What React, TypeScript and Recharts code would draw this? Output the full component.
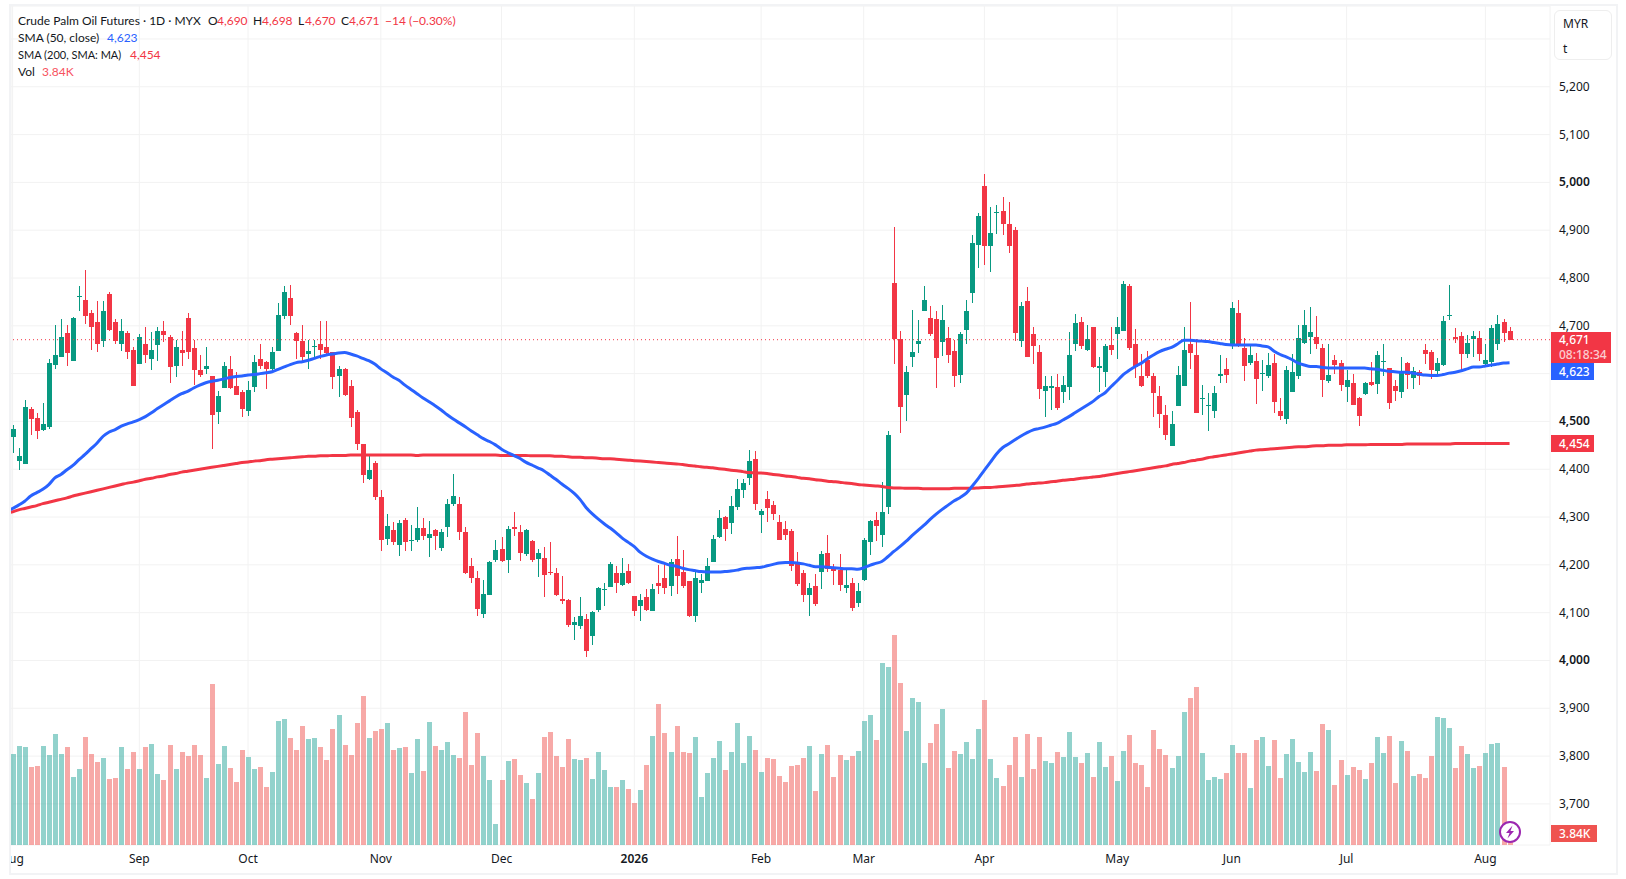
import React from 'react';
import { ComposedChart, Bar, Line, XAxis, YAxis, CartesianGrid, ReferenceLine } from 'recharts';

const open = [
  4468,4418,4412,4525,4508,4483,4489,4619,4634,4686,
  4627,4760,4755,4726,4709,4669,4766,4709,4661,4686,
  4650,4621,4663,4630,4659,4690,4676,4615,4650,4717,
  4653,4607,4609,4596,4519,4569,4609,4575,4561,4521,
  4571,4630,4625,4609,4648,4720,4759,4686,4669,4642,
  4655,4661,4655,4646,4596,4609,4575,4519,4452,4379,
  4413,4342,4255,4272,4242,4294,4249,4253,4278,4257,
  4272,4236,4280,4328,4328,4269,4197,4172,4097,4136,
  4211,4234,4211,4280,4269,4222,4249,4213,4215,4186,
  4184,4128,4126,4074,4072,4086,4051,4105,4147,4153,
  4184,4157,4188,4134,4113,4132,4103,4163,4172,4155,
  4213,4186,4167,4092,4163,4167,4205,4259,4301,4288,
  4322,4357,4382,4422,4305,4338,4326,4290,4276,4270,
  4205,4182,4136,4155,4185,4224,4194,4189,4151,4162,
  4120,4168,4247,4293,4262,4322,4790,4673,4556,4634,
  4661,4732,4717,4715,4667,4675,4648,4598,4692,4769,
  4870,4993,4866,4937,4941,4912,4901,4669,4751,4682,
  4646,4563,4569,4571,4561,4573,4663,4709,4650,4698,
  4611,4604,4659,4682,4690,4784,4661,4594,4629,4594,
  4554,4514,4449,4533,4575,4661,4640,4548,4533,4522,
  4594,4610,4661,4727,4654,4623,4627,4600,4596,4623,
  4522,4506,4562,4596,4665,4677,4677,4654,4585,4629,
  4623,4571,4581,4548,4558,4583,4579,4624,4612,4575,
  4562,4623,4591,4604,4650,4646,4606,4619,4721,4676,
  4679,4642,4673,4675,4621,4625,4663,4707,4690,
];
const high = [
  4492,4445,4544,4531,4517,4538,4630,4701,4715,4701,
  4719,4784,4816,4734,4751,4751,4770,4715,4715,4690,
  4655,4682,4697,4688,4697,4711,4680,4671,4690,4726,
  4671,4638,4655,4596,4563,4625,4636,4604,4565,4584,
  4640,4663,4627,4655,4747,4784,4786,4688,4701,4671,
  4671,4711,4711,4646,4615,4611,4586,4523,4452,4430,
  4417,4357,4307,4290,4294,4299,4284,4322,4297,4292,
  4276,4274,4338,4390,4342,4280,4215,4188,4169,4209,
  4251,4259,4282,4311,4284,4276,4253,4234,4238,4247,
  4194,4176,4128,4090,4132,4097,4103,4153,4163,4207,
  4197,4215,4201,4134,4138,4149,4159,4199,4207,4213,
  4261,4232,4167,4186,4180,4215,4263,4315,4303,4344,
  4380,4380,4440,4438,4317,4355,4334,4305,4291,4276,
  4226,4189,4162,4180,4230,4262,4201,4222,4191,4172,
  4162,4256,4293,4310,4373,4479,4907,4690,4615,4734,
  4713,4784,4742,4730,4744,4698,4671,4688,4753,4891,
  4935,5018,4949,4953,4970,4960,4907,4749,4782,4698,
  4659,4596,4596,4600,4594,4688,4724,4719,4701,4698,
  4634,4663,4698,4719,4794,4788,4694,4642,4648,4602,
  4575,4535,4522,4617,4698,4750,4673,4577,4560,4575,
  4640,4633,4750,4755,4675,4663,4644,4629,4644,4642,
  4548,4617,4642,4702,4734,4740,4721,4661,4663,4640,
  4629,4608,4600,4552,4583,4625,4648,4661,4612,4587,
  4635,4625,4614,4608,4663,4650,4633,4721,4786,4696,
  4688,4681,4690,4690,4663,4702,4723,4715,4698,
];
const low = [
  4433,4399,4412,4471,4464,4479,4485,4609,4634,4617,
  4626,4730,4703,4650,4646,4655,4689,4661,4648,4630,
  4575,4621,4623,4607,4627,4667,4581,4592,4615,4630,
  4577,4592,4600,4443,4494,4569,4567,4556,4510,4512,
  4561,4609,4567,4604,4648,4715,4701,4630,4627,4609,
  4632,4630,4640,4567,4552,4554,4489,4441,4372,4378,
  4336,4228,4242,4242,4219,4230,4228,4247,4251,4217,
  4232,4228,4259,4324,4253,4180,4163,4094,4088,4136,
  4207,4207,4182,4261,4209,4219,4205,4174,4132,4178,
  4134,4119,4069,4042,4065,4007,4032,4101,4113,4153,
  4142,4155,4159,4092,4082,4103,4103,4140,4140,4134,
  4140,4151,4090,4080,4142,4167,4205,4257,4249,4265,
  4315,4340,4367,4315,4267,4290,4294,4251,4251,4187,
  4155,4122,4093,4113,4149,4185,4157,4145,4141,4103,
  4111,4166,4220,4249,4237,4306,4621,4475,4500,4613,
  4644,4730,4678,4569,4636,4623,4571,4581,4661,4747,
  4820,4828,4813,4893,4891,4853,4669,4655,4634,4621,
  4546,4510,4523,4523,4538,4544,4648,4652,4648,4611,
  4561,4571,4638,4630,4690,4650,4591,4571,4591,4510,
  4487,4462,4449,4533,4575,4610,4518,4514,4481,4508,
  4581,4581,4652,4656,4585,4619,4537,4564,4591,4518,
  4502,4495,4562,4589,4663,4642,4652,4552,4581,4600,
  4564,4541,4535,4491,4556,4575,4558,4594,4527,4543,
  4550,4568,4568,4577,4621,4589,4594,4617,4713,4665,
  4604,4633,4635,4627,4619,4614,4650,4667,4670,
];
const close = [
  4485,4427,4531,4506,4479,4494,4623,4640,4676,4644,
  4717,4762,4720,4697,4661,4732,4692,4669,4690,4646,
  4575,4676,4640,4650,4690,4680,4613,4655,4644,4646,
  4607,4598,4617,4514,4554,4615,4569,4556,4525,4565,
  4625,4615,4609,4646,4722,4770,4720,4669,4634,4648,
  4657,4650,4644,4592,4609,4556,4508,4452,4389,4399,
  4342,4251,4282,4247,4288,4247,4251,4278,4261,4265,
  4261,4269,4328,4344,4269,4184,4172,4107,4140,4207,
  4232,4209,4276,4274,4224,4272,4211,4224,4178,4182,
  4136,4124,4074,4080,4092,4019,4101,4151,4149,4201,
  4161,4184,4161,4103,4126,4105,4149,4155,4151,4205,
  4176,4155,4092,4172,4169,4197,4255,4299,4274,4324,
  4359,4372,4417,4328,4313,4319,4307,4251,4262,4197,
  4159,4136,4151,4118,4222,4192,4187,4157,4157,4109,
  4145,4251,4291,4281,4310,4471,4673,4531,4604,4646,
  4669,4755,4682,4632,4713,4638,4596,4682,4732,4874,
  4930,4868,4895,4939,4912,4866,4686,4742,4634,4657,
  4567,4575,4575,4529,4577,4640,4705,4657,4673,4613,
  4617,4657,4650,4698,4788,4654,4614,4575,4594,4560,
  4516,4472,4495,4598,4650,4644,4518,4550,4535,4560,
  4600,4598,4738,4661,4617,4638,4589,4602,4619,4541,
  4512,4608,4604,4675,4702,4688,4661,4587,4598,4619,
  4577,4587,4535,4512,4581,4577,4640,4626,4539,4564,
  4604,4598,4606,4594,4642,4608,4623,4711,4723,4673,
  4642,4665,4679,4642,4629,4696,4704,4684,4671,
];
// volume in thousands
const volume = [
  29.1,31.7,31.4,25.0,25.3,31.7,28.8,35.5,29.1,31.4,
  21.8,24.3,34.6,29.1,26.6,27.8,21.1,21.4,31.4,24.3,
  29.8,24.3,31.4,32.3,22.7,20.8,32.0,24.3,29.8,28.5,
  32.0,28.8,21.4,51.5,25.9,31.7,24.6,20.2,30.4,28.2,
  24.3,25.0,18.6,23.4,39.7,40.3,34.2,30.4,38.1,33.9,
  34.2,31.4,27.2,37.1,41.6,32.0,28.8,39.0,47.7,34.2,
  36.5,37.1,39.0,30.4,31.0,31.4,23.0,33.9,23.7,39.4,
  31.7,30.4,33.0,28.8,27.8,42.6,25.6,35.8,28.5,20.8,
  6.7,20.8,26.9,27.5,22.4,19.8,14.7,23.0,34.6,36.2,
  28.5,25.0,33.9,27.5,27.2,27.8,21.1,29.8,24.0,18.6,
  18.6,20.8,17.9,13.4,17.6,25.6,34.9,45.1,35.8,29.8,
  38.1,29.8,29.4,34.6,15.4,23.0,27.8,33.3,24.0,29.8,
  39.0,26.2,34.9,30.4,23.4,27.8,27.5,22.1,20.2,25.3,
  25.6,27.8,31.7,17.3,29.1,32.0,21.8,28.8,27.2,28.5,
  30.1,39.7,41.6,33.6,58.2,57.0,67.2,51.8,36.5,47.0,
  45.8,26.2,32.6,38.7,43.5,24.6,30.1,29.1,33.0,27.5,
  37.1,46.4,27.5,21.4,18.9,25.6,34.6,21.8,35.5,24.3,
  34.6,26.9,26.2,29.8,28.2,36.2,28.2,26.2,29.4,21.8,
  33.0,25.0,28.5,20.5,30.1,35.2,26.2,25.6,18.6,36.8,
  30.7,28.8,24.6,28.5,42.6,47.0,50.6,29.4,20.8,21.8,
  21.1,23.0,32.0,29.4,29.4,18.2,33.6,34.6,25.3,33.6,
  21.4,29.1,33.9,26.6,23.4,29.8,23.7,38.7,36.8,19.2,
  27.2,22.4,25.0,24.0,21.1,26.2,34.6,29.4,34.9,19.8,
  33.3,30.1,22.1,22.7,21.4,28.5,41.0,40.6,37.4,24.6,
  31.7,29.1,24.6,25.3,29.4,32.3,32.6,25.0,3.84,
];
const sma50 = [
  4318,4325,4333,4344,4351,4358,4368,4382,4389,4399,
  4408,4420,4431,4443,4455,4469,4478,4483,4490,4495,
  4499,4504,4510,4518,4527,4535,4543,4551,4558,4563,
  4570,4576,4581,4584,4586,4589,4592,4594,4595,4597,
  4598,4600,4602,4604,4609,4614,4619,4623,4625,4628,
  4632,4636,4639,4641,4643,4644,4641,4637,4632,4627,
  4620,4610,4602,4593,4586,4576,4567,4558,4549,4541,
  4533,4524,4514,4505,4497,4489,4480,4472,4464,4458,
  4451,4442,4435,4429,4423,4415,4409,4403,4397,4388,
  4379,4369,4360,4350,4337,4320,4307,4296,4286,4277,
  4267,4256,4247,4238,4226,4218,4212,4207,4203,4199,
  4197,4193,4190,4188,4186,4185,4185,4185,4186,4187,
  4189,4192,4193,4194,4195,4198,4201,4204,4205,4205,
  4204,4202,4199,4196,4196,4195,4194,4193,4192,4192,
  4191,4194,4199,4203,4207,4217,4228,4238,4249,4261,
  4272,4283,4295,4306,4316,4325,4334,4341,4350,4365,
  4381,4398,4415,4432,4445,4453,4461,4469,4476,4482,
  4485,4488,4492,4496,4503,4510,4518,4526,4534,4542,
  4552,4560,4573,4585,4598,4607,4615,4622,4631,4639,
  4646,4651,4655,4662,4670,4670,4669,4668,4667,4665,
  4663,4661,4660,4660,4660,4660,4660,4658,4656,4647,
  4640,4635,4629,4622,4618,4615,4615,4613,4612,4612,
  4612,4612,4612,4612,4612,4610,4609,4607,4605,4604,
  4603,4603,4601,4599,4597,4596,4596,4598,4601,4603,
  4606,4610,4614,4614,4616,4618,4620,4622,4623,
];
const sma200 = [
  4311,4315,4318,4321,4324,4328,4331,4334,4337,4340,
  4344,4347,4350,4353,4356,4359,4362,4365,4368,4371,
  4373,4376,4379,4381,4384,4386,4389,4391,4394,4396,
  4398,4400,4402,4404,4406,4408,4410,4412,4414,4415,
  4417,4418,4420,4421,4422,4423,4424,4425,4426,4427,
  4427,4428,4428,4429,4429,4429,4430,4430,4430,4430,
  4430,4430,4430,4430,4430,4430,4430,4429,4430,4430,
  4430,4430,4430,4430,4430,4430,4430,4430,4430,4430,
  4430,4429,4429,4429,4429,4429,4428,4428,4428,4428,
  4427,4427,4426,4425,4425,4424,4424,4423,4422,4422,
  4421,4420,4419,4418,4417,4416,4415,4414,4413,4412,
  4411,4410,4408,4407,4405,4404,4403,4401,4400,4398,
  4397,4395,4393,4392,4392,4391,4389,4388,4386,4385,
  4383,4381,4380,4378,4377,4375,4374,4373,4371,4370,
  4368,4367,4366,4365,4364,4362,4361,4361,4360,4360,
  4360,4359,4359,4359,4359,4359,4360,4360,4360,4360,
  4361,4362,4362,4363,4364,4365,4366,4367,4369,4370,
  4371,4372,4374,4375,4377,4378,4379,4381,4382,4384,
  4385,4387,4389,4391,4393,4395,4397,4399,4401,4403,
  4405,4407,4410,4412,4414,4417,4419,4421,4424,4426,
  4428,4430,4432,4434,4436,4438,4440,4441,4442,4443,
  4444,4445,4446,4447,4447,4448,4449,4449,4450,4450,
  4450,4451,4451,4451,4451,4452,4452,4452,4452,4452,
  4452,4453,4453,4453,4453,4453,4453,4453,4453,4454,
  4454,4454,4454,4454,4454,4454,4454,4454,4454,
];
// averages one session before the first visible bar, so the lines reach the left edge
const sma50Before = 4311;
const sma200Before = 4307;
const monthTicks = [0, 21, 39, 61, 81, 103, 124, 141, 161, 183, 202, 221, 244];
const monthLabels = ['Aug', 'Sep', 'Oct', 'Nov', 'Dec', '2026', 'Feb', 'Mar', 'Apr', 'May', 'Jun', 'Jul', 'Aug'];
const priceTicks = [3700, 3800, 3900, 4000, 4100, 4200, 4300, 4400, 4500, 4600, 4700, 4800, 4900, 5000, 5100, 5200, 5300];
const lastClose = 4671;

const chartData: any[] = [
  { i: -1, sma50: sma50Before, sma200: sma200Before },
  ...open.map((o, i) => ({
    i,
    open: o,
    high: high[i],
    low: low[i],
    close: close[i],
    vol: volume[i],
    sma50: sma50[i],
    sma200: sma200[i],
  })),
];

const FONT = '"Noto Sans", sans-serif';
const LEGEND_FONT = 'Lato, sans-serif';
const UP = '#089981';
const DOWN = '#F23645';
const BLUE = '#2962FF';
const INK = '#131722';

const Candle = (props: any) => {
  const { x, y, width, height, payload } = props;
  if (payload.open == null) return null;
  const pxPerUnit = height / (payload.high - payload.low);
  const top = y + (payload.high - Math.max(payload.open, payload.close)) * pxPerUnit;
  const bodyH = Math.max(Math.abs(payload.open - payload.close) * pxPerUnit, 1);
  const color = payload.close >= payload.open ? UP : DOWN;
  const left = Math.round(x);
  return (
    <g shapeRendering="crispEdges">
      <rect x={left + 2} y={y} width={1} height={height} fill={color} />
      <rect x={left} y={top} width={width} height={bodyH} fill={color} />
    </g>
  );
};

const VolBar = (props: any) => {
  const { x, y, width, height, payload } = props;
  if (payload.open == null) return null;
  const color = payload.close >= payload.open ? '#26a69a' : '#ef5350';
  return <rect x={Math.round(x)} y={y} width={width} height={height} fill={color} fillOpacity={0.5} shapeRendering="crispEdges" />;
};

const PriceTick = (props: any) => {
  const { y, payload } = props;
  if (payload.value === 5300) return null;
  const strong = payload.value % 500 === 0;
  return (
    <text x={1559} y={y + 4} fontSize={12} fontFamily={FONT} fontWeight={strong ? 600 : 400} fill={INK}>
      {payload.value.toLocaleString('en-US')}
    </text>
  );
};

const DateTick = (props: any) => {
  const { x, y, payload } = props;
  const label = monthLabels[monthTicks.indexOf(payload.value)];
  return (
    <text x={x} y={y + 10} textAnchor="middle" fontSize={12} fontFamily={FONT} fontWeight={label === '2026' ? 600 : 400} fill={INK}>
      {label}
    </text>
  );
};

const Badge = ({ top, height, width, bg, children }: any) => (
  <div style={{ position: 'absolute', left: 1551, top, width, height, background: bg, color: '#fff', fontSize: 12, paddingLeft: 8, boxSizing: 'border-box', lineHeight: '17px', fontWeight: 500 }}>
    {children}
  </div>
);

const Row = ({ top, size = 12, children }: any) => (
  <div style={{ position: 'absolute', left: 18, top, height: 17, lineHeight: '17px', fontSize: size, fontFamily: LEGEND_FONT, color: INK, whiteSpace: 'nowrap' }}>{children}</div>
);

const Val = ({ x, color, children }: any) => (
  <span style={{ position: 'absolute', left: x, color, fontSize: 12 }}>{children}</span>
);

export default function App() {
  return (
    <div style={{ position: 'absolute', left: 0, top: 0, width: 1626, height: 879, background: '#fff', fontFamily: FONT, overflow: 'hidden' }}>
      <ComposedChart width={1626} height={879} data={chartData} margin={{ top: 6, right: 0, bottom: 0, left: 11 }}>
        <CartesianGrid stroke="#f2f2f2" xAxisId="price" yAxisId="price" />
        <XAxis
          xAxisId="price"
          type="number"
          dataKey="i"
          domain={[-0.265, 254.7]}
          allowDataOverflow
          ticks={monthTicks}
          interval={0}
          height={34}
          axisLine={false}
          tickLine={false}
          tick={<DateTick />}
        />
        <XAxis xAxisId="vol" type="number" dataKey="i" domain={[-0.265, 254.7]} allowDataOverflow hide />
        <YAxis
          yAxisId="price"
          orientation="right"
          width={76}
          domain={[3614, 5369]}
          allowDataOverflow
          ticks={priceTicks}
          interval={0}
          axisLine={false}
          tickLine={false}
          tick={<PriceTick />}
        />
        <YAxis yAxisId="vol" hide domain={[0, 268.5]} />
        <ReferenceLine xAxisId="price" yAxisId="price" y={lastClose} stroke={DOWN} strokeDasharray="1 3" />
        <Bar xAxisId="vol" yAxisId="vol" dataKey="vol" barSize={5} shape={<VolBar />} isAnimationActive={false} />
        <Bar xAxisId="price" yAxisId="price" dataKey={(d: any) => (d.open == null ? null : [d.low, d.high])} barSize={5} shape={<Candle />} isAnimationActive={false} />
        <Line xAxisId="price" yAxisId="price" dataKey="sma200" stroke={DOWN} strokeWidth={3} dot={false} activeDot={false} type="monotone" isAnimationActive={false} />
        <Line xAxisId="price" yAxisId="price" dataKey="sma50" stroke={BLUE} strokeWidth={3} dot={false} activeDot={false} type="monotone" isAnimationActive={false} />
      </ComposedChart>

      {/* frame */}
      <div style={{ position: 'absolute', left: 0, top: 0, width: 9, height: 879, background: '#fff' }} />
      <div style={{ position: 'absolute', left: 9, top: 4, width: 1609, height: 871, border: '2px solid #f2f3f5', boxSizing: 'border-box' }} />

      {/* legend */}
      <Row top={12}>
        Crude Palm Oil Futures · 1D · MYX
        <Val x={190}>O</Val><Val x={199} color={DOWN}>4,690</Val>
        <Val x={235}>H</Val><Val x={244} color={DOWN}>4,698</Val>
        <Val x={280}>L</Val><Val x={287} color={DOWN}>4,670</Val>
        <Val x={323}>C</Val><Val x={331} color={DOWN}>4,671</Val>
        <Val x={367} color={DOWN}>−14 (−0.30%)</Val>
      </Row>
      <Row top={29}>SMA (50, close)<Val x={89} color={BLUE}>4,623</Val></Row>
      <Row top={46} size={11}>SMA (200, SMA: MA)<Val x={112} color={DOWN}>4,454</Val></Row>
      <Row top={63}>Vol<Val x={24} color="#F7525F">3.84K</Val></Row>

      {/* unit box */}
      <div style={{ position: 'absolute', left: 1554, top: 10, width: 58, height: 50, border: '1px solid #eeeeee', borderRadius: 6, boxSizing: 'border-box', fontSize: 12, color: INK, background: '#fff' }}>
        <div style={{ position: 'absolute', left: 8, top: 4 }}>MYR</div>
        <div style={{ position: 'absolute', left: 8, top: 29 }}>t</div>
      </div>

      {/* last value badges */}
      <Badge top={332} height={31} width={60} bg={DOWN}>
        <div style={{ lineHeight: '15px' }}>4,671</div>
        <div style={{ lineHeight: '15px', opacity: 0.75 }}>08:18:34</div>
      </Badge>
      <Badge top={363} height={17} width={43} bg={BLUE}>4,623</Badge>
      <Badge top={435} height={17} width={43} bg={DOWN}>4,454</Badge>
      <Badge top={825} height={17} width={46} bg="#EF5350">3.84K</Badge>

      {/* data-updates marker */}
      <svg style={{ position: 'absolute', left: 1498, top: 820 }} width={24} height={24}>
        <circle cx={12} cy={12} r={10} fill="#fff" stroke="#9C27B0" strokeWidth={2} />
        <path d="M14.5 5.5 L8 13 L11.5 13 L9.5 18.5 L16 11 L12.5 11 Z" fill="#9C27B0" />
      </svg>
    </div>
  );
}
